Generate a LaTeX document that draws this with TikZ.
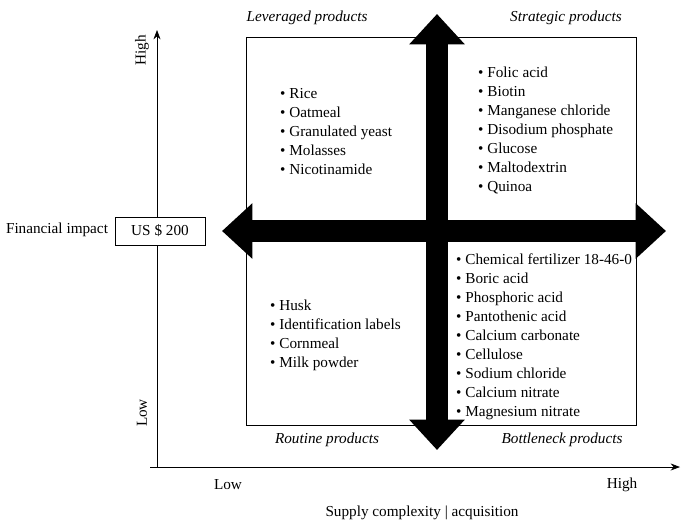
\documentclass[tikz,border=0pt]{standalone}
\usepackage{fontspec}
\setmainfont{Liberation Serif}
\usetikzlibrary{arrows.meta, positioning}

\begin{document}
\begin{tikzpicture}[x=0.03cm, y=-0.03cm, font=\fontsize{13}{16.2}\selectfont,
    quad/.style={font=\fontsize{13}{16}\selectfont\itshape},
    items/.style={align=left, anchor=north west, inner sep=0pt},
    bigarrow/.style={line width=18pt, {Triangle[length=26pt,width=46pt]}-{Triangle[length=26pt,width=46pt]}},
    axis/.style={-{Stealth[length=8pt,width=6pt]}, line width=0.6pt}]
    \useasboundingbox (0,0) rectangle (685,522);

    % axes
    \coordinate (O) at (157,467);
    \coordinate (Ytop) at (157,30);
    \coordinate (Xend) at (680,467);
    \draw[axis] (O) -- (Ytop);
    \draw[axis] (150,467) -- (Xend);

    \node[rotate=90] (yhigh) at (142,50) {High};
    \node[rotate=90] (ylow) at (142,413) {Low};
    \node (xlow) at (228,485) {Low};
    \node (xhigh) at (622,485) {High};
    \node (xlab) at (422,513) {Supply complexity | acquisition};
    \node (ylab) at (57,230) {Financial impact};
    \node[draw, fill=white, line width=0.6pt, minimum width=90*0.03cm, minimum height=28*0.03cm] (usd) at (160,231) {US \$ 200};

    % matrix
    \draw[line width=0.6pt] (246,37) rectangle (636,425);
    \coordinate (L) at (222,231);
    \coordinate (R) at (666,231);
    \coordinate (T) at (437,14);
    \coordinate (B) at (437,450);
    \draw[bigarrow] (L) -- (R);
    \draw[bigarrow] (B) -- (T);

    % quadrant titles
    \node[quad] (lev) at (307,18) {Leveraged products};
    \node[quad] (str) at (566,18) {Strategic products};
    \node[quad] (rou) at (327,440) {Routine products};
    \node[quad] (bot) at (562,440) {Bottleneck products};

    % item lists
    \node[items] (levlist) at (280,88) {\textbullet\ Rice\\ \textbullet\ Oatmeal\\ \textbullet\ Granulated yeast\\ \textbullet\ Molasses\\ \textbullet\ Nicotinamide};
    \node[items] (strlist) at (478,67) {\textbullet\ Folic acid\\ \textbullet\ Biotin\\ \textbullet\ Manganese chloride\\ \textbullet\ Disodium phosphate\\ \textbullet\ Glucose\\ \textbullet\ Maltodextrin\\ \textbullet\ Quinoa};
    \node[items] (roulist) at (270,300) {\textbullet\ Husk\\ \textbullet\ Identification labels\\ \textbullet\ Cornmeal\\ \textbullet\ Milk powder};
    \node[items] (botlist) at (456,254) {\textbullet\ Chemical fertilizer 18-46-0\\ \textbullet\ Boric acid\\ \textbullet\ Phosphoric acid\\ \textbullet\ Pantothenic acid\\ \textbullet\ Calcium carbonate\\ \textbullet\ Cellulose\\ \textbullet\ Sodium chloride\\ \textbullet\ Calcium nitrate\\ \textbullet\ Magnesium nitrate};
\end{tikzpicture}
\end{document}
